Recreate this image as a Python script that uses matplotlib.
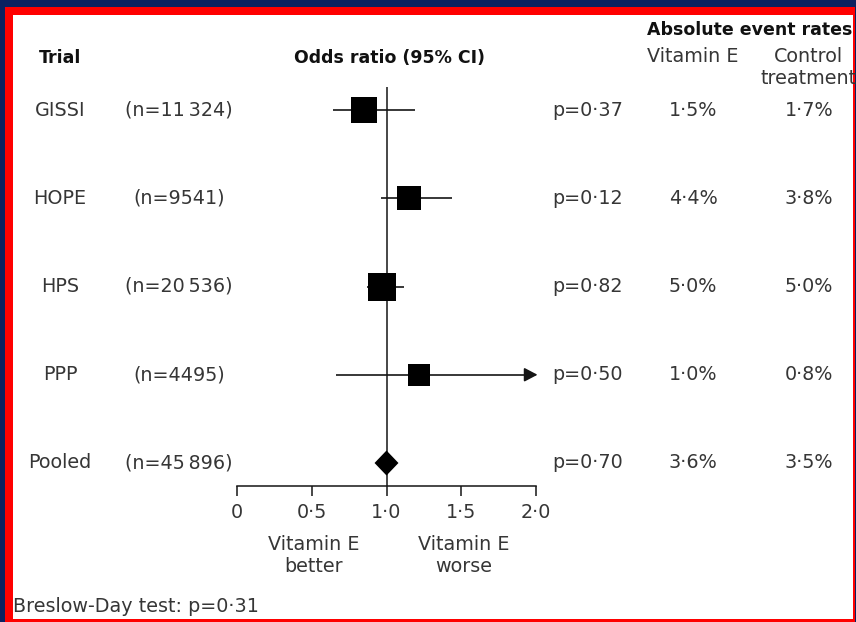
import matplotlib
matplotlib.use("Agg")
import matplotlib.pyplot as plt
from matplotlib.patches import Rectangle, Polygon

# forest plot data
trials = ["GISSI", "HOPE", "HPS", "PPP", "Pooled"]
n_labels = ["(n=11\u2009324)", "(n=9541)", "(n=20\u2009536)", "(n=4495)", "(n=45\u2009896)"]
odds = [0.85, 1.15, 0.97, 1.22, 1.00]
ci_low = [0.64, 0.96, 0.87, 0.66, 0.92]
ci_high = [1.19, 1.44, 1.12, 2.40, 1.08]
p_values = ["p=0·37", "p=0·12", "p=0·82", "p=0·50", "p=0·70"]
rate_vite = ["1·5%", "4·4%", "5·0%", "1·0%", "3·6%"]
rate_ctrl = ["1·7%", "3·8%", "5·0%", "0·8%", "3·5%"]
xticks = [0, 0.5, 1.0, 1.5, 2.0]
xtick_labels = ["0", "0·5", "1·0", "1·5", "2·0"]

# box sides in pixels (study weight look)
box_px = [26, 24, 27, 23]

W, H = 856, 622
DPI = 100
X0_PX, UNIT_PX = 237, 149.5      # OR=0 position, px per OR unit
ROW0_PX, ROW_PX = 110, 88.25     # first row centre, row spacing
AXIS_Y = (486 - ROW0_PX) / ROW_PX
XMAX = 2.0

txt = "#363636"
ink = "#151515"
FS = 13.8
FSB = 12.5
plt.rcParams["font.family"] = ["DejaVu Sans"]

fig = plt.figure(figsize=(W / DPI, H / DPI), dpi=DPI)
fig.patch.set_facecolor("#0b2160")

# red frame + white panel
fig.patches.append(Rectangle((5 / W, 0), 850 / W, 1 - 7 / H, transform=fig.transFigure,
                             facecolor="#ff0000", edgecolor="none", zorder=-10))
fig.patches.append(Rectangle((13 / W, 3 / H), 840 / W, (H - 15 - 3) / H, transform=fig.transFigure,
                             facecolor="white", edgecolor="none", zorder=-9))

ax = fig.add_axes([0, 0, 1, 1])
ax.set_facecolor("none")
ax.set_xlim(-X0_PX / UNIT_PX, (W - X0_PX) / UNIT_PX)
ax.set_ylim((H - ROW0_PX) / ROW_PX, -ROW0_PX / ROW_PX)

for s in ["top", "left", "right"]:
    ax.spines[s].set_visible(False)
ax.spines["bottom"].set_position(("data", AXIS_Y))
ax.spines["bottom"].set_bounds(0, XMAX)
ax.spines["bottom"].set_linewidth(1.1)
ax.spines["bottom"].set_color(ink)
ax.set_yticks([])
ax.set_xticks(xticks)
ax.set_xticklabels(xtick_labels)
ax.tick_params(axis="x", direction="out", length=7.2, width=1.1, color=ink,
               pad=5, labelsize=FS, labelcolor=txt)

# line of no effect
ax.vlines(1.0, -0.26, AXIS_Y, color=ink, lw=1.1, zorder=2)

rows = list(range(len(trials)))
for i in rows[:-1]:
    y = rows[i]
    if ci_high[i] > XMAX:
        ax.hlines(y, ci_low[i], XMAX - 0.05, color=ink, lw=1.2, zorder=3)
        ax.annotate("", xy=(XMAX + 0.01, y), xytext=(XMAX - 0.06, y),
                    arrowprops=dict(arrowstyle="-|>,head_length=0.8,head_width=0.42",
                                    mutation_scale=10, lw=1.2, color=ink,
                                    shrinkA=0, shrinkB=0), zorder=3)
    else:
        ax.hlines(y, ci_low[i], ci_high[i], color=ink, lw=1.2, zorder=3)
    side_pt = box_px[i] * 72 / DPI
    ax.scatter([odds[i]], [y], marker="s", s=side_pt ** 2, color="black",
               linewidths=0, zorder=4)

# pooled diamond
yp = rows[-1]
half_h = 12.5 / ROW_PX
ax.add_patch(Polygon([(ci_low[-1], yp), (odds[-1], yp - half_h),
                      (ci_high[-1], yp), (odds[-1], yp + half_h)],
                     closed=True, facecolor="black", edgecolor="none", zorder=4))

# table columns
tr = ax.get_yaxis_transform()
for i, y in enumerate(rows):
    ax.text(60 / W, y, trials[i], transform=tr, ha="center", va="center", fontsize=FS, color=txt)
    ax.text(179 / W, y, n_labels[i], transform=tr, ha="center", va="center", fontsize=FS, color=txt)
    ax.text(552 / W, y, p_values[i], transform=tr, ha="left", va="center", fontsize=FS, color=txt)
    ax.text(693 / W, y, rate_vite[i], transform=tr, ha="center", va="center", fontsize=FS, color=txt)
    ax.text(809 / W, y, rate_ctrl[i], transform=tr, ha="center", va="center", fontsize=FS, color=txt)


def ftext(x, y, s, **kw):
    fig.text(x / W, 1 - y / H, s, **kw)


ftext(60, 58, "Trial", ha="center", va="center", fontsize=FSB, fontweight="bold", color="#111111")
ftext(390, 58, "Odds ratio (95% CI)", ha="center", va="center", fontsize=FSB, fontweight="bold", color="#111111")
ftext(750, 30, "Absolute event rates", ha="center", va="center", fontsize=FSB, fontweight="bold", color="#111111")
ftext(693, 56, "Vitamin E", ha="center", va="center", fontsize=FS, color=txt)
ftext(808, 56, "Control", ha="center", va="center", fontsize=FS, color=txt)
ftext(809, 79, "treatment", ha="center", va="center", fontsize=FS, color=txt)

ftext(314, 545, "Vitamin E", ha="center", va="center", fontsize=FS, color=txt)
ftext(314, 566, "better", ha="center", va="center", fontsize=FS, color=txt)
ftext(464, 545, "Vitamin E", ha="center", va="center", fontsize=FS, color=txt)
ftext(464, 566, "worse", ha="center", va="center", fontsize=FS, color=txt)

ftext(13, 606, "Breslow-Day test: p=0·31", ha="left", va="center", fontsize=FS, color=txt)

fig.savefig("out.png", dpi=DPI, facecolor=fig.get_facecolor())
